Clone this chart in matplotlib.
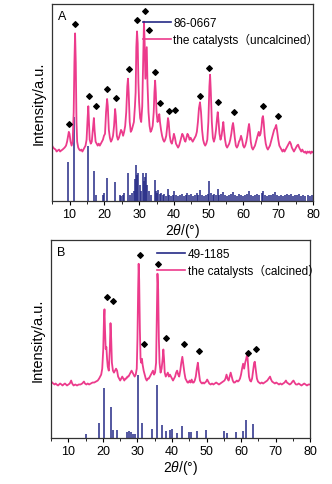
import matplotlib
matplotlib.use('Agg')
import matplotlib.pyplot as plt
from matplotlib.lines import Line2D

plt.rcParams['font.family'] = ['Liberation Sans', 'Noto Sans CJK SC', 'DejaVu Sans']
plt.rcParams['mathtext.fontset'] = 'custom'
plt.rcParams['mathtext.it'] = 'Liberation Sans:italic'

PINK = '#ec3b8c'
NAVY = '#252a86'

# ---- panel A : uncalcined catalyst ----
a_x = [5.0, 5.3, 5.6, 6.0, 6.3, 6.6, 7.0, 7.3, 7.6, 8.0, 8.3, 8.6, 9.0, 9.3, 9.6, 9.8, 10.0, 10.3, 10.6, 10.9,
       11.2, 11.4, 11.6, 11.8, 12.0, 12.2, 12.5, 12.8, 13.1, 13.4, 13.7, 14.0, 14.3, 14.6, 14.9, 15.2, 15.4, 15.6, 15.8, 16.1,
       16.4, 16.7, 17.0, 17.2, 17.5, 17.8, 18.1, 18.4, 18.7, 19.0, 19.3, 19.6, 19.9, 20.2, 20.5, 20.8, 21.0, 21.3, 21.6, 21.9,
       22.2, 22.5, 22.8, 23.1, 23.3, 23.6, 23.9, 24.2, 24.5, 24.8, 25.1, 25.4, 25.7, 26.0, 26.3, 26.6, 26.8, 27.0, 27.3, 27.6,
       27.9, 28.2, 28.5, 28.8, 29.0, 29.2, 29.4, 29.6, 29.8, 30.0, 30.3, 30.6, 30.9, 31.2, 31.4, 31.6, 31.8, 32.0, 32.2, 32.4,
       32.7, 33.0, 33.3, 33.6, 33.9, 34.2, 34.4, 34.6, 34.8, 35.0, 35.3, 35.6, 35.8, 36.0, 36.3, 36.6, 36.9, 37.2, 37.5, 37.8,
       38.1, 38.3, 38.5, 38.8, 39.1, 39.4, 39.7, 40.0, 40.3, 40.6, 40.9, 41.2, 41.5, 41.8, 42.1, 42.4, 42.7, 43.0, 43.3, 43.6,
       43.9, 44.2, 44.5, 44.8, 45.1, 45.4, 45.7, 46.0, 46.3, 46.6, 46.9, 47.2, 47.5, 47.8, 48.1, 48.4, 48.7, 49.0, 49.3, 49.6,
       49.9, 50.2, 50.4, 50.6, 50.9, 51.2, 51.5, 51.8, 52.1, 52.4, 52.6, 52.8, 53.1, 53.4, 53.7, 54.0, 54.2, 54.4, 54.7, 55.0,
       55.3, 55.6, 55.9, 56.2, 56.5, 56.8, 57.0, 57.2, 57.5, 57.8, 58.1, 58.4, 58.7, 59.0, 59.3, 59.6, 59.9, 60.2, 60.5, 60.8,
       61.1, 61.4, 61.6, 61.8, 62.1, 62.4, 62.7, 63.0, 63.3, 63.6, 63.9, 64.2, 64.4, 64.6, 64.9, 65.2, 65.4, 65.6, 65.8, 66.1,
       66.4, 66.7, 67.0, 67.3, 67.6, 67.9, 68.2, 68.5, 68.8, 69.1, 69.4, 69.7, 70.0, 70.3, 70.6, 70.9, 71.2, 71.5, 71.8, 72.1,
       72.4, 72.7, 73.0, 73.3, 73.6, 73.9, 74.2, 74.5, 74.8, 75.1, 75.4, 75.7, 76.0, 76.3, 76.6, 76.9, 77.2, 77.5, 77.8, 78.1,
       78.4, 78.7, 79.0, 79.3, 79.6, 80.0]
a_y = [28, 27, 26.5, 26, 25, 25.5, 26, 25, 25.5, 26, 26.5, 27, 28, 30, 33, 35, 34, 30, 28, 30,
       45, 70, 85, 70, 40, 30, 27, 26, 25.5, 26, 25, 26, 27, 28, 31, 42, 48, 40, 31, 29,
       30, 36, 42, 36, 30, 29, 28, 29, 28, 29, 30, 31, 33, 34, 45, 51.7, 48, 36, 32, 30,
       31, 33, 38, 46.6, 43, 33, 31, 32, 34, 36, 35, 33, 35, 38, 45, 58, 62, 55, 40, 35,
       36, 38, 40, 48, 55, 78, 86, 80, 60, 50, 42, 40, 48, 75, 91, 80, 62, 70, 78, 60,
       45, 38, 35, 36, 38, 45, 55, 61, 55, 45, 40, 42, 44, 40, 36, 33, 31, 30, 31, 33,
       38, 42, 40, 33, 30, 29, 31, 34, 32, 29, 28, 27, 28, 30, 32, 34, 33, 31, 30, 32,
       34, 33, 31, 32, 31, 30, 31, 32, 33, 35, 40, 47, 50, 45, 36, 31, 29, 28, 29, 31,
       40, 58, 64, 56, 40, 32, 30, 32, 36, 42, 45, 41, 34, 31, 33, 37, 40, 36, 31, 28,
       27, 28, 29, 31, 34, 38, 39.5, 37, 32, 28, 27, 28, 30, 31, 33, 31, 28, 27, 28, 30,
       33, 37, 39, 36, 30, 27, 26, 27, 28, 30, 32, 34, 35, 33, 34, 38, 42, 43, 40, 33,
       29, 27, 26, 27, 28, 30, 32, 34, 36, 37, 38.5, 35, 31, 28, 27, 26, 25, 26, 25, 26,
       27, 28, 29, 30, 29, 27, 26, 25, 26, 27, 28, 28.5, 27, 26, 25, 26, 25, 24.5, 25, 24,
       25, 24.5, 25, 24, 25, 24.5]

# reference card 86-0667 (stick positions / heights)
a_ref_x = [9.7, 11.4, 15.3, 17.0, 17.6, 19.6, 19.9, 20.8, 23.2, 24.5, 24.9, 25.4, 25.8, 26.8, 27.3, 28.0, 28.5, 28.8,
           29.1, 29.4, 29.7, 30.2, 30.6, 31.0, 31.3, 31.6, 32.1, 32.4, 32.8, 33.4, 34.5, 34.8, 35.2, 35.5, 35.9, 36.3,
           36.8, 37.2, 37.6, 38.3, 38.7, 39.1, 39.6, 40.0, 40.6, 41.2, 41.8, 42.3, 42.8, 43.4, 43.9, 44.4, 45.0, 45.6,
           46.1, 46.6, 47.0, 47.5, 48.0, 48.6, 49.2, 49.7, 50.2, 50.6, 51.1, 51.6, 52.1, 52.6, 53.1, 53.6, 54.2, 54.7,
           55.3, 55.8, 56.4, 57.0, 57.5, 58.1, 58.6, 59.2, 59.8, 60.4, 61.0, 61.6, 62.2, 62.8, 63.4, 64.0, 64.6, 65.2,
           65.6, 66.2, 66.8, 67.4, 68.0, 68.6, 69.0, 69.5, 70.1, 70.7, 71.3, 71.9, 72.5, 73.1, 73.6, 74.2, 74.8, 75.4,
           76.0, 76.6, 77.2, 77.8, 78.4, 79.0, 79.6]
a_ref_h = [19.8, 42.4, 28, 15.3, 2.9, 3, 4, 11.4, 9.3, 3, 2.5, 3, 4, 14, 3, 4, 5, 11,
           18.3, 13, 14, 8, 5, 13.9, 10, 12, 14, 8, 5, 3, 10.7, 5, 4, 5.5, 3.5, 4,
           3, 3.5, 2.5, 6, 3, 2.5, 3, 5, 3, 2.5, 3, 3.5, 2.5, 3, 4, 3, 3.5, 2.5,
           3, 4, 3, 5.5, 3, 2.5, 3, 3.5, 10, 4, 3, 3.5, 3, 6, 3, 3.5, 4.5, 3,
           2.5, 3, 3.5, 4.5, 3, 2.5, 3.5, 3, 2.5, 3, 3.5, 5, 3, 2.5, 3, 3.5, 3, 4,
           5, 3, 2.5, 3, 3, 3.5, 4.5, 3, 2.5, 3, 2.5, 3, 3.5, 3, 3.5, 2.5, 3, 3,
           3.5, 2.5, 3, 2.5, 3, 2.5, 3]

a_mark_x = [9.9, 11.7, 15.6, 17.7, 20.9, 23.3, 27.0, 29.3, 31.6, 32.8, 34.6, 35.9, 38.5, 40.3, 47.5, 50.2, 52.6, 57.4, 65.7, 69.9]
a_mark_y = [39.0, 89.8, 53.4, 48.0, 56.8, 52.0, 66.9, 92.0, 96.3, 86.8, 65.6, 49.5, 45.4, 46.3, 53.4, 67.5, 50.0, 44.9, 48.3, 43.2]

# ---- panel B : calcined catalyst ----
b_x = [5.0, 5.3, 5.6, 6.0, 6.3, 6.6, 7.0, 7.3, 7.6, 8.0, 8.3, 8.6, 9.0, 9.3, 9.6, 10.0, 10.4, 10.8, 11.1, 11.5,
       12.0, 12.5, 13.0, 13.5, 14.0, 14.5, 14.8, 15.2, 15.6, 16.0, 16.5, 17.0, 17.5, 18.0, 18.5, 18.9, 19.2, 19.5, 19.8, 20.1,
       20.3, 20.45, 20.6, 20.8, 21.0, 21.2, 21.4, 21.7, 22.0, 22.2, 22.4, 22.6, 22.9, 23.2, 23.5, 23.8, 24.1, 24.4, 24.7, 25.0,
       25.3, 25.6, 25.9, 26.2, 26.5, 26.8, 27.1, 27.4, 27.7, 28.0, 28.3, 28.6, 28.9, 29.2, 29.5, 29.8, 30.0, 30.2, 30.35, 30.5,
       30.7, 30.9, 31.1, 31.3, 31.5, 31.8, 32.1, 32.4, 32.7, 33.0, 33.3, 33.6, 33.9, 34.2, 34.5, 34.8, 35.1, 35.4, 35.6, 35.8,
       36.0, 36.2, 36.4, 36.7, 37.0, 37.3, 37.5, 37.7, 37.9, 38.2, 38.5, 38.8, 39.1, 39.4, 39.7, 40.0, 40.3, 40.6, 40.9, 41.2,
       41.5, 41.8, 42.1, 42.4, 42.7, 43.0, 43.3, 43.6, 43.9, 44.2, 44.5, 44.8, 45.1, 45.4, 45.7, 46.0, 46.3, 46.6, 46.9, 47.2,
       47.5, 47.8, 48.1, 48.4, 48.7, 49.0, 49.3, 49.6, 49.9, 50.2, 50.5, 50.8, 51.2, 51.6, 52.0, 52.4, 52.8, 53.2, 53.6, 54.0,
       54.4, 54.8, 55.2, 55.5, 55.8, 56.1, 56.4, 56.7, 57.0, 57.3, 57.6, 57.9, 58.2, 58.5, 58.8, 59.1, 59.4, 59.7, 60.0, 60.3,
       60.6, 60.9, 61.2, 61.5, 61.8, 62.0, 62.3, 62.6, 62.9, 63.2, 63.5, 63.8, 64.0, 64.3, 64.6, 64.9, 65.2, 65.6, 66.0, 66.4,
       66.8, 67.2, 67.6, 68.0, 68.4, 68.7, 69.0, 69.4, 69.8, 70.2, 70.6, 71.0, 71.4, 71.8, 72.2, 72.6, 73.0, 73.3, 73.7, 74.1,
       74.5, 74.9, 75.2, 75.5, 75.9, 76.3, 76.7, 77.1, 77.5, 77.9, 78.3, 78.7, 79.1, 79.5, 80.0]
b_y = [28.5, 28, 27.5, 27, 27.5, 27, 26.5, 27, 27.5, 27, 26.5, 27, 27.5, 27, 26.5, 27, 27.5, 29, 27.5, 26.5,
       27, 26.5, 27, 27, 27.5, 28.5, 27.5, 27, 27.5, 27, 27.5, 28, 28, 28.5, 29, 30, 31, 32, 35, 45,
       60, 65, 55, 45, 46, 40, 36, 34, 45, 58, 50, 38, 34, 33, 34, 35, 34, 31, 30, 29,
       30, 31, 30, 29, 30, 30, 31, 31, 32, 33, 34, 33, 32, 31, 32, 35, 50, 75, 88, 80,
       55, 40, 38, 40, 37, 34, 32, 30, 29, 30, 30, 31, 32, 33, 34, 32, 33, 38, 60, 83,
       75, 50, 38, 33, 35, 40, 44.7, 40, 33, 31, 32, 33, 31, 32, 31, 30, 29, 30, 31, 33,
       34, 32, 31, 34, 38, 41, 37, 33, 30, 29, 28, 28, 29, 28, 29.5, 28, 28, 29, 31, 35,
       38, 33, 29, 28, 27.5, 28, 27.5, 28, 28.5, 29.5, 28.5, 27.5, 27, 27.5, 27, 27.5, 28, 27.5, 27, 27.5,
       28, 28.5, 29, 30, 32, 30, 29, 31, 33, 31, 29, 28, 28, 28.5, 29, 28.5, 29, 30, 32, 35,
       37.5, 35, 38, 40, 42.5, 38, 31, 29, 28.5, 30, 34, 38, 38.5, 34, 30, 28.5, 28, 27.5, 28, 27.5,
       28, 28.5, 29, 30, 31, 29.5, 28.5, 28, 27.5, 28, 27.5, 27, 27.5, 27, 27.5, 28, 29, 28, 27.5, 27,
       27.5, 28.5, 29, 28, 27, 27, 27.5, 27, 26.5, 27, 27.5, 27, 26.5, 27, 27]

# reference card 49-1185
b_ref_x = [15.1, 19.0, 20.4, 22.2, 23.0, 24.0, 27.0, 27.5, 28.0, 28.8, 29.3, 30.3, 31.2, 34.2, 35.7, 37.2, 38.4,
           39.3, 39.9, 41.5, 42.8, 45.0, 45.5, 47.2, 49.9, 55.0, 55.8, 58.5, 60.5, 61.4, 63.5]
b_ref_h = [2.2, 7.6, 25, 15.7, 4.2, 4.2, 3, 3.5, 3, 2, 2, 32, 7.6, 4.6, 26.6, 6.7, 3.5,
           3.8, 4.4, 2.5, 5.9, 3, 3, 3.5, 4.2, 3.5, 2.7, 3.2, 3.5, 9.3, 6.9]

b_mark_x = [21.2, 22.8, 30.8, 32.0, 36.0, 38.3, 43.5, 47.7, 62.1, 64.2]
b_mark_y = [71.3, 69.1, 92.4, 47.6, 87.7, 50.6, 47.6, 44.0, 43.0, 44.7]

panels = [
    ('A', [0.157, 0.584, 0.786, 0.406], a_x, a_y, a_ref_x, a_ref_h, a_mark_x, a_mark_y,
     '86-0667', 'the catalysts（uncalcined）', (0.347, 0.935)),
    ('B', [0.154, 0.095, 0.780, 0.408], b_x, b_y, b_ref_x, b_ref_h, b_mark_x, b_mark_y,
     '49-1185', 'the catalysts（calcined）', (0.409, 0.96)),
]

fig = plt.figure(figsize=(3.32, 4.85), dpi=100)

for name, rect, px, py, rx, rh, mx, my, ref_lab, cat_lab, leg_pos in panels:
    ax = fig.add_axes(rect)
    ax.vlines(rx, 0, rh, color=NAVY, lw=1.1)
    ax.plot(px, py, color=PINK, lw=1.3)
    ax.scatter(mx, my, marker='D', s=8, color='black', zorder=5)
    ax.set_xlim(5, 80)
    ax.set_ylim(0, 100)
    ax.set_xticks(range(10, 81, 10))
    ax.set_xticks(range(5, 81, 5), minor=True)
    ax.set_yticks([])
    ax.tick_params(axis='x', which='major', direction='out', length=3, width=0.8, labelsize=9, pad=2)
    ax.tick_params(axis='x', which='minor', direction='out', length=2, width=0.6)
    for s in ax.spines.values():
        s.set_linewidth(0.9)
        s.set_color('#333333')
    ax.set_xlabel('2$\\mathit{\\theta}$/(°)', fontsize=10, labelpad=1)
    ax.set_ylabel('Intensity/a.u.', fontsize=10.5, labelpad=5)
    ax.text(0.022, 0.94, name, transform=ax.transAxes, fontsize=9, va='center', ha='left')
    handles = [Line2D([], [], color=NAVY, lw=1.2), Line2D([], [], color=PINK, lw=1.2)]
    ax.legend(handles, [ref_lab, cat_lab], loc='upper left', bbox_to_anchor=leg_pos,
              frameon=False, fontsize=8.5, handlelength=2.4, handletextpad=0.2,
              borderpad=0, borderaxespad=0, labelspacing=0.35)

fig.savefig('out.png', dpi=100)
